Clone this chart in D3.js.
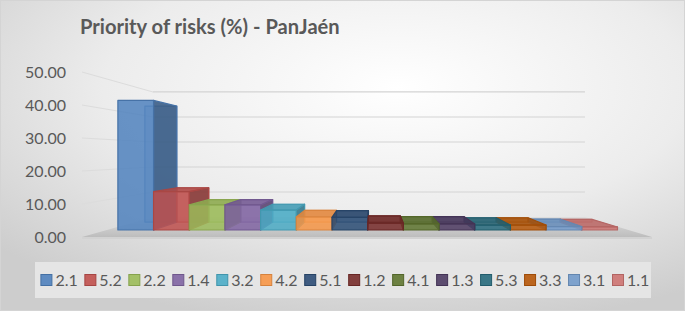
<!DOCTYPE html>
<html>
<head>
<meta charset="utf-8">
<script src="https://cdn.jsdelivr.net/npm/d3@7/dist/d3.min.js"></script>
<style>
  html, body { margin: 0; padding: 0; background: #ffffff; }
  svg { display: block; }
  text { font-family: Lato, "Open Sans", sans-serif; }
</style>
</head>
<body>
<svg id="chart" width="685" height="311"></svg>
<script>
// ---- data ----
const title = "Priority of risks (%) - PanJaén";
const categories = ["2.1","5.2","2.2","1.4","3.2","4.2","5.1","1.2","4.1","1.3","5.3","3.3","3.1","1.1"];
const values = [42.9, 12.7, 8.3, 8.3, 6.6, 4.3, 4.2, 2.3, 2.0, 2.0, 1.6, 1.6, 1.1, 1.0];
const colors = ["#4f81bd","#c0504d","#9bbb59","#8064a2","#4bacc6","#f79646",
                "#2c4d75","#772c2a","#5f7530","#4d3b62","#276a7c","#b65708",
                "#729aca","#cd7371"];
const yTicks = [0, 10, 20, 30, 40, 50];

// ---- layout / projection ----
const W = 685, H = 311;
const vp = { x: 375, y: 154.5 };      // vanishing point
const sWall = 0.758;                  // depth scale of back wall
const sFront = 0.915;                 // depth scale of bar front faces
const sBack = 0.819;                  // depth scale of bar back faces
const wallX = [82, 652];              // plot extent in front plane

const x = d3.scaleBand().domain(categories).range([94, 640]).padding(0);
const y = d3.scaleLinear().domain([0, 50]).range([237, 72]);
const proj = (px, py, s) => [vp.x + (px - vp.x) * s, vp.y + (py - vp.y) * s];
const poly = pts => "M" + pts.map(p => p.join(",")).join("L") + "Z";

const svg = d3.select("#chart");
const defs = svg.append("defs");

// background gradient
const bg = defs.append("radialGradient").attr("id", "bg")
  .attr("cx", "58%").attr("cy", "28%").attr("r", "78%");
bg.append("stop").attr("offset", "0%").attr("stop-color", "#ffffff");
bg.append("stop").attr("offset", "55%").attr("stop-color", "#ececec");
bg.append("stop").attr("offset", "100%").attr("stop-color", "#cdcdcd");
svg.append("rect").attr("x", 0.5).attr("y", 0.5).attr("width", W - 1).attr("height", H - 1)
  .attr("fill", "url(#bg)").attr("stroke", "#d4d4d4");

// floor gradient
const fg = defs.append("linearGradient").attr("id", "floor")
  .attr("x1", 0).attr("y1", 0).attr("x2", 0).attr("y2", 1);
fg.append("stop").attr("offset", "0%").attr("stop-color", "#dedede");
fg.append("stop").attr("offset", "100%").attr("stop-color", "#bdbdbd");

// title
const titleText = svg.append("text").attr("x", 80).attr("y", 34)
  .attr("font-size", 18.5).attr("font-weight", "bold").attr("fill", "#595959")
  .text(title);
const tw = titleText.node().getComputedTextLength();
if (tw > 0) titleText.attr("font-size", 18.5 * 260 / tw);

// back wall gridlines
const grid = svg.append("g");
yTicks.filter(v => v > 0).forEach(v => {
  const a = proj(wallX[0], y(v), sWall), b = proj(wallX[1], y(v), sWall);
  grid.append("line").attr("x1", a[0]).attr("y1", a[1]).attr("x2", b[0]).attr("y2", b[1])
    .attr("stroke", "#d3d3d3").attr("stroke-width", 1.2);
  const c = proj(wallX[0], y(v), 1);
  grid.append("line").attr("x1", c[0]).attr("y1", c[1]).attr("x2", a[0]).attr("y2", a[1])
    .attr("stroke", "#dcdcdc").attr("stroke-width", 1);
});

// floor
const f1 = proj(wallX[0], y(0), 1), f2 = proj(wallX[1], y(0), 1),
      f3 = proj(wallX[1], y(0), sWall), f4 = proj(wallX[0], y(0), sWall);
svg.append("path").attr("d", poly([f1, f2, f3, f4])).attr("fill", "url(#floor)");
svg.append("rect").attr("x", f1[0]).attr("y", f1[1]).attr("width", f2[0] - f1[0]).attr("height", 2)
  .attr("fill", "#d2d2d2");

// y axis labels
const yAxis = d3.axisLeft(y).tickValues(yTicks).tickFormat(d3.format(".2f"))
  .tickSize(0).tickPadding(0);
const ax = svg.append("g").attr("transform", "translate(66,0)").call(yAxis);
ax.select(".domain").remove();
ax.selectAll("text").attr("font-size", 16).attr("fill", "#595959")
  .attr("font-family", "Lato, 'Open Sans', sans-serif");

// bars (painter's order: farthest from vanishing point first)
const bars = categories.map((c, i) => ({ c, v: values[i], col: colors[i],
  xl: x(c), xr: x(c) + x.bandwidth() }));
const order = bars.slice().sort((a, b) =>
  Math.abs((b.xl + b.xr) / 2 - vp.x) - Math.abs((a.xl + a.xr) / 2 - vp.x));
const barG = svg.append("g");
order.forEach(d => {
  const yt = y(d.v), yb = y(0);
  const F = [proj(d.xl, yt, sFront), proj(d.xr, yt, sFront), proj(d.xr, yb, sFront), proj(d.xl, yb, sFront)];
  const B = [proj(d.xl, yt, sBack), proj(d.xr, yt, sBack), proj(d.xr, yb, sBack), proj(d.xl, yb, sBack)];
  const base = d3.color(d.col);
  const stroke = base.darker(0.35).formatHex();
  const g = barG.append("g").attr("stroke", stroke).attr("stroke-width", 1.2)
    .attr("stroke-linejoin", "round");
  // back face (seen through)
  g.append("path").attr("d", poly(B)).attr("fill", d.col).attr("fill-opacity", 0.25)
    .attr("stroke-opacity", 0.7);
  // visible side face
  const cx = (d.xl + d.xr) / 2;
  if (d.xr < vp.x) {
    g.append("path").attr("d", poly([F[1], B[1], B[2], F[2]]))
      .attr("fill", base.darker(1).formatHex()).attr("fill-opacity", 0.88);
  } else if (d.xl > vp.x) {
    g.append("path").attr("d", poly([F[0], B[0], B[3], F[3]]))
      .attr("fill", base.darker(1).formatHex()).attr("fill-opacity", 0.88);
  }
  // top face visible when below eye level
  if (yt > vp.y) {
    g.append("path").attr("d", poly([F[0], F[1], B[1], B[0]]))
      .attr("fill", base.darker(0.25).formatHex()).attr("fill-opacity", 0.88);
  }
  // front face
  g.append("path").attr("d", poly(F)).attr("fill", d.col).attr("fill-opacity", 0.85);
});

// legend
svg.append("rect").attr("x", 35).attr("y", 262).attr("width", 616).attr("height", 36)
  .attr("fill", "#e5e5e5");
const lx = d3.scaleBand().domain(categories).range([40.4, 40.4 + 14 * 43.97]);
const lg = svg.append("g").selectAll("g").data(bars).join("g")
  .attr("transform", d => `translate(${lx(d.c)},0)`);
lg.append("rect").attr("x", 0.5).attr("y", 274.5).attr("width", 11).attr("height", 11)
  .attr("fill", d => d.col).attr("fill-opacity", 0.9)
  .attr("stroke", d => d3.color(d.col).darker(0.4).formatHex()).attr("stroke-width", 1);
lg.append("text").attr("x", 15).attr("y", 285.7).attr("font-size", 16).attr("fill", "#595959")
  .text(d => d.c);
</script>
</body>
</html>
